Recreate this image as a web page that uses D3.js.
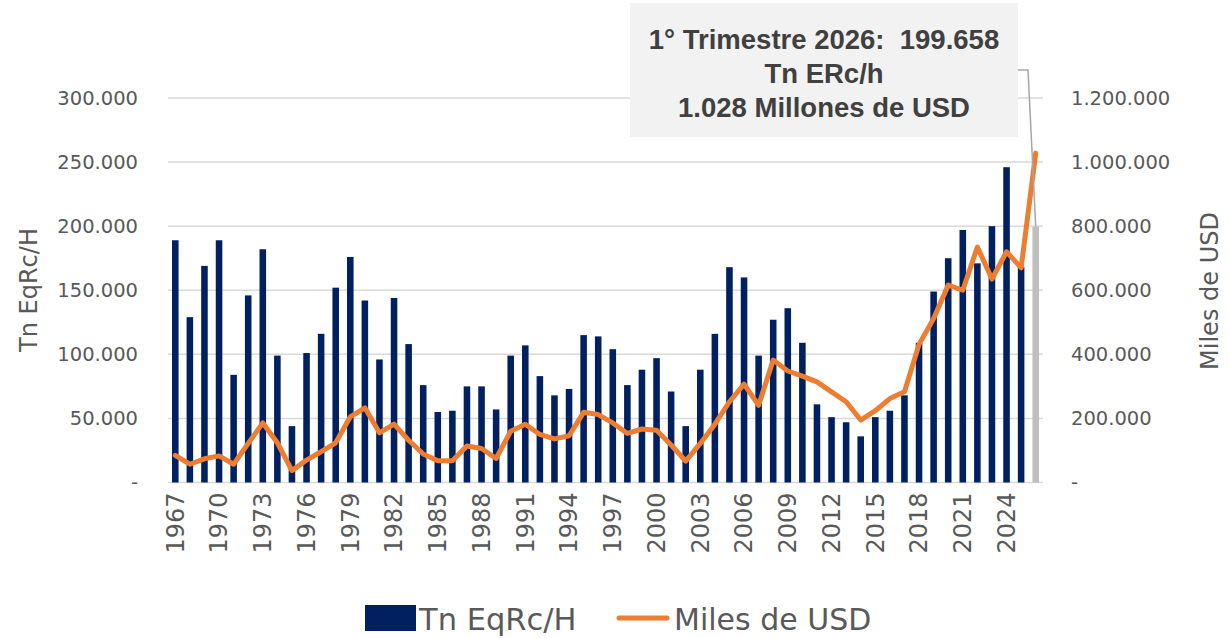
<!DOCTYPE html>
<html>
<head>
<meta charset="utf-8">
<script src="https://cdn.jsdelivr.net/npm/d3@7"></script>
<style>
  body { margin: 0; background: #fff; }
  svg { display: block; font-family: "DejaVu Sans", sans-serif; }
</style>
</head>
<body>
<svg id="chart" width="1229" height="638"></svg>
<script>
// categorías (años)
const years = d3.range(1967, 2027);
// Tn EqRc/H (barras, eje izquierdo)
const toneladas = [
  189000, 129000, 169000, 189000, 84000, 146000, 182000, 99000, 44000, 101000,
  116000, 152000, 176000, 142000, 96000, 144000, 108000, 76000, 55000, 56000,
  75000, 75000, 57000, 99000, 107000, 83000, 68000, 73000, 115000, 114000,
  104000, 76000, 88000, 97000, 71000, 44000, 88000, 116000, 168000, 160000,
  99000, 127000, 136000, 109000, 61000, 51000, 47000, 36000, 51000, 56000,
  68000, 109000, 149000, 175000, 197000, 171000, 200000, 246000, 168000, 199658
];
// Miles de USD (línea, eje derecho)
const milesUSD = [
  85000, 57000, 74000, 83000, 57000, 122000, 186000, 124000, 37000, 70000,
  96000, 124000, 205000, 233000, 155000, 182000, 132000, 89000, 68000, 68000,
  114000, 106000, 75000, 160000, 182000, 150000, 136000, 146000, 219000, 212000,
  186000, 153000, 167000, 163000, 117000, 67000, 122000, 182000, 252000, 307000,
  241000, 382000, 348000, 332000, 314000, 283000, 252000, 195000, 224000, 262000,
  283000, 431000, 512000, 616000, 600000, 735000, 635000, 720000, 670000, 1028000
];
const ticksLeft = [0, 50000, 100000, 150000, 200000, 250000, 300000];
const ticksRight = [0, 200000, 400000, 600000, 800000, 1000000, 1200000];
const yearLabels = years.filter((d, i) => i % 3 === 0);
const annotation = ["1° Trimestre 2026:  199.658", "Tn ERc/h", "1.028 Millones de USD"];

const svg = d3.select("#chart");
const plotLeft = 168, plotRight = 1043, plotTop = 98, plotBottom = 482.5;

const x = d3.scaleBand().domain(years).range([plotLeft, plotRight])
  .paddingInner(0.55).paddingOuter(0.275);
const yL = d3.scaleLinear().domain([0, 300000]).range([plotBottom, plotTop]);
const yR = d3.scaleLinear().domain([0, 1200000]).range([plotBottom, plotTop]);

const fmt = v => v === 0 ? "-" : d3.format(",")(v).replace(/,/g, ".");

// líneas de la cuadrícula
svg.append("g").selectAll("line")
  .data(ticksLeft).enter().append("line")
  .attr("x1", plotLeft).attr("x2", plotRight)
  .attr("y1", d => yL(d)).attr("y2", d => yL(d))
  .attr("stroke", "#d9d9d9").attr("stroke-width", 1.5);

// eje izquierdo
const axL = svg.append("g").attr("transform", `translate(${plotLeft},0)`)
  .call(d3.axisLeft(yL).tickValues(ticksLeft).tickFormat(fmt).tickSize(0).tickPadding(30));
axL.select(".domain").remove();
axL.selectAll("text").attr("font-size", 19.5).attr("fill", "#595959")
  .attr("font-family", "DejaVu Sans");

// eje derecho
const axR = svg.append("g").attr("transform", `translate(${plotRight},0)`)
  .call(d3.axisRight(yR).tickValues(ticksRight).tickFormat(fmt).tickSize(0).tickPadding(28));
axR.select(".domain").remove();
axR.selectAll("text").attr("font-size", 19.5).attr("fill", "#595959")
  .attr("font-family", "DejaVu Sans");

// eje x (años cada 3)
const axX = svg.append("g").attr("transform", `translate(0,${plotBottom})`)
  .call(d3.axisBottom(x).tickValues(yearLabels).tickSize(0).tickPadding(0));
axX.select(".domain").remove();
axX.selectAll("text")
  .attr("font-size", 24).attr("fill", "#595959").attr("font-family", "DejaVu Sans")
  .attr("transform", "rotate(-90)")
  .attr("text-anchor", "end").attr("x", -10).attr("y", 0).attr("dy", "0.35em");

// títulos de los ejes
svg.append("text").attr("transform", "translate(37,290) rotate(-90)")
  .attr("text-anchor", "middle").attr("font-size", 24).attr("fill", "#595959")
  .text("Tn EqRc/H");
svg.append("text").attr("transform", "translate(1218,291) rotate(-90)")
  .attr("text-anchor", "middle").attr("font-size", 24).attr("fill", "#595959")
  .text("Miles de USD");

// barras
svg.append("g").selectAll("rect")
  .data(years).enter().append("rect")
  .attr("x", d => x(d))
  .attr("width", x.bandwidth())
  .attr("y", (d, i) => yL(toneladas[i]))
  .attr("height", (d, i) => plotBottom - yL(toneladas[i]))
  .attr("fill", (d, i) => i === years.length - 1 ? "#bfbfbf" : "#002060");

// línea
const line = d3.line()
  .x((d, i) => x(years[i]) + x.bandwidth() / 2)
  .y(d => yR(d));
svg.append("path").datum(milesUSD)
  .attr("d", line)
  .attr("fill", "none").attr("stroke", "#ed7d31")
  .attr("stroke-width", 5).attr("stroke-linejoin", "round").attr("stroke-linecap", "round");

// cuadro de anotación
const boxX = 630, boxY = 3, boxW = 388, boxH = 134;
svg.append("rect").attr("x", boxX).attr("y", boxY).attr("width", boxW).attr("height", boxH)
  .attr("fill", "#f2f2f2");
svg.append("g").selectAll("text")
  .data(annotation).enter().append("text")
  .attr("x", boxX + boxW / 2).attr("y", (d, i) => 49 + i * 34)
  .attr("text-anchor", "middle").attr("font-family", "Liberation Sans, Arial, sans-serif")
  .attr("font-weight", "bold").attr("font-size", 27.5).attr("fill", "#404040")
  .style("white-space", "pre")
  .text(d => d);

// línea guía hacia la última barra
const lastYear = years[years.length - 1];
const lx = x(lastYear) + x.bandwidth() / 2;
svg.append("polyline")
  .attr("points", [[boxX + boxW, 70], [1028, 70], [lx, yL(toneladas[toneladas.length - 1])]].map(p => p.join(",")).join(" "))
  .attr("fill", "none").attr("stroke", "#a6a6a6").attr("stroke-width", 1.5);

// leyenda
const lg = svg.append("g");
lg.append("rect").attr("x", 365).attr("y", 605).attr("width", 51).attr("height", 26).attr("fill", "#002060");
lg.append("text").attr("x", 419).attr("y", 630).attr("font-size", 30.5).attr("fill", "#595959").text("Tn EqRc/H");
lg.append("line").attr("x1", 619).attr("x2", 667).attr("y1", 618).attr("y2", 618)
  .attr("stroke", "#ed7d31").attr("stroke-width", 5).attr("stroke-linecap", "round");
lg.append("text").attr("x", 674).attr("y", 630).attr("font-size", 30).attr("fill", "#595959").text("Miles de USD");
</script>
</body>
</html>
